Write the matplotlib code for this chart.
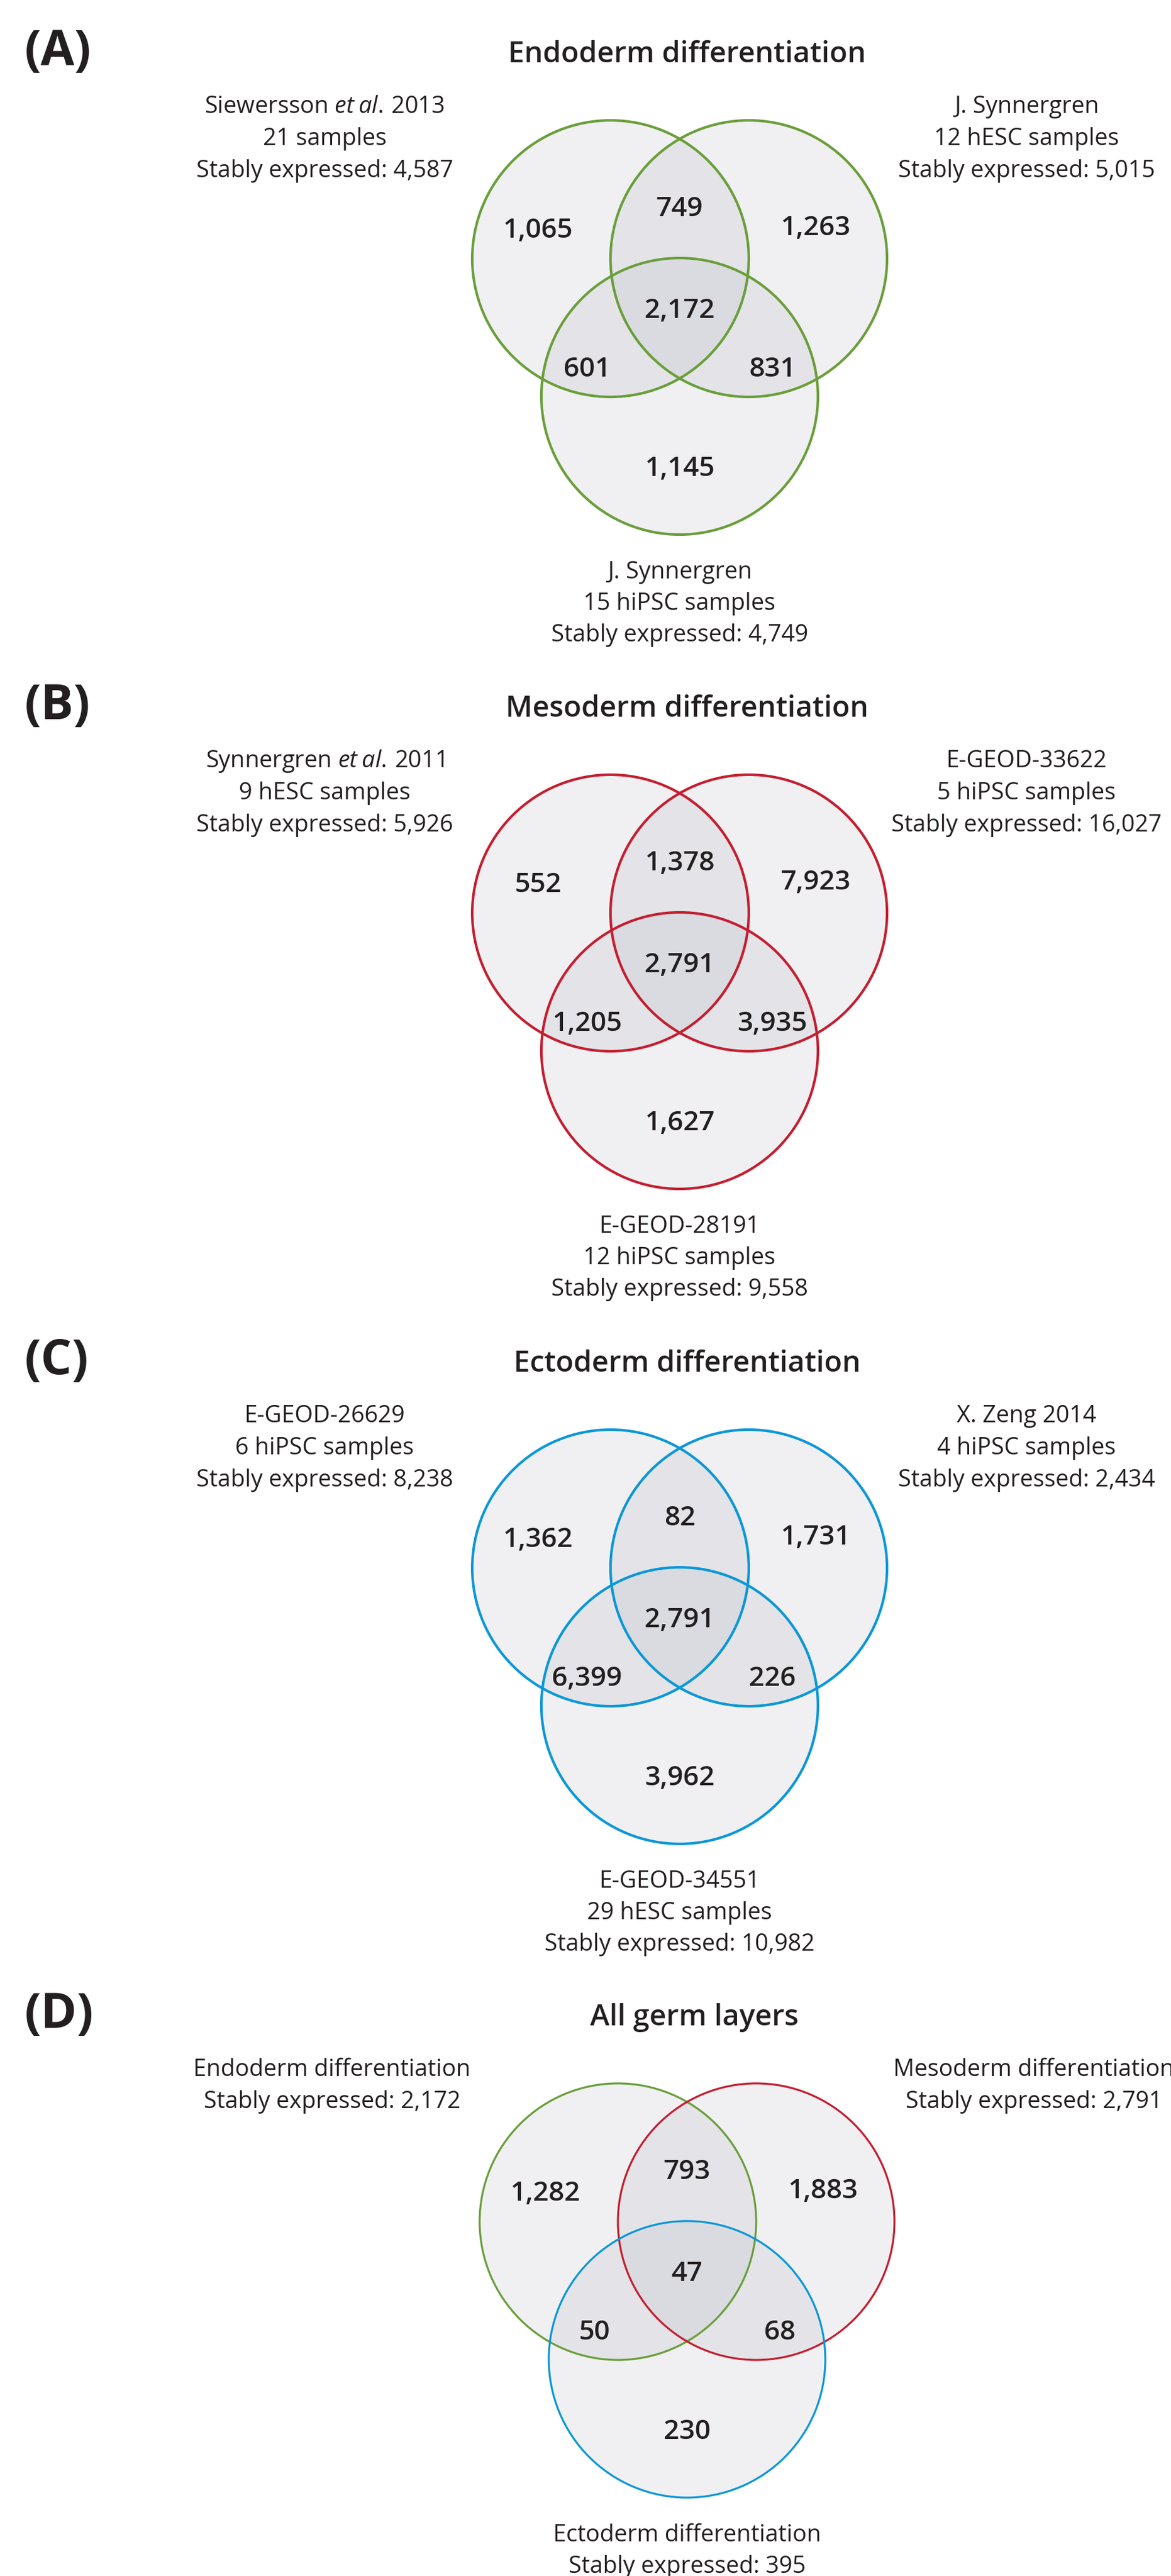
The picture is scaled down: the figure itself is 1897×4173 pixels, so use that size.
import matplotlib
matplotlib.use("Agg")
import matplotlib.pyplot as plt
from matplotlib.patches import Circle
from matplotlib import font_manager

# pick a humanist sans close to the original (Myriad-like)
names = {f.name for f in font_manager.fontManager.ttflist}
FONT = next(n for n in ["Open Sans", "Noto Sans", "Lato", "DejaVu Sans"] if n in names)
plt.rcParams["font.family"] = [FONT, "DejaVu Sans"]
plt.rcParams["mathtext.fontset"] = "custom"
plt.rcParams["mathtext.rm"] = FONT
plt.rcParams["mathtext.it"] = FONT + ":italic"

# ---- data ----
panel_letters = ["(A)", "(B)", "(C)", "(D)"]
titles = ["Endoderm differentiation", "Mesoderm differentiation",
          "Ectoderm differentiation", "All germ layers"]
left_labels = [
    [r"Siewersson $\mathit{et}\:\mathit{al.}\,$2013", "21 samples", "Stably expressed: 4,587"],
    [r"Synnergren $\mathit{et}\:\mathit{al.}\,$2011", "9 hESC samples", "Stably expressed: 5,926"],
    ["E-GEOD-26629", "6 hiPSC samples", "Stably expressed: 8,238"],
    ["Endoderm differentiation", "Stably expressed: 2,172"],
]
right_labels = [
    ["J. Synnergren", "12 hESC samples", "Stably expressed: 5,015"],
    ["E-GEOD-33622", "5 hiPSC samples", "Stably expressed: 16,027"],
    ["X. Zeng 2014", "4 hiPSC samples", "Stably expressed: 2,434"],
    ["Mesoderm differentiation", "Stably expressed: 2,791"],
]
bottom_labels = [
    ["J. Synnergren", "15 hiPSC samples", "Stably expressed: 4,749"],
    ["E-GEOD-28191", "12 hiPSC samples", "Stably expressed: 9,558"],
    ["E-GEOD-34551", "29 hESC samples", "Stably expressed: 10,982"],
    ["Ectoderm differentiation", "Stably expressed: 395"],
]
# region order: left only, left&right, right only, all three, left&bottom, right&bottom, bottom only
endoderm_counts = [1065, 749, 1263, 2172, 601, 831, 1145]
mesoderm_counts = [552, 1378, 7923, 2791, 1205, 3935, 1627]
ectoderm_counts = [1362, 82, 1731, 2791, 6399, 226, 3962]
germ_counts = [1282, 793, 1883, 47, 50, 68, 230]
counts = [endoderm_counts, mesoderm_counts, ectoderm_counts, germ_counts]

GREEN, RED, BLUE = "#6a9e3a", "#c41e30", "#0b97d7"
edge_colors = [[GREEN] * 3, [RED] * 3, [BLUE] * 3, [GREEN, RED, BLUE]]
TXT = "#231f20"

# ---- layout (pixel coords) ----
W, H = 1897, 4173
panel_dy = [0, 1060, 2121, 3180]
panel_dx = [0, 0, 0, 12]
line_w = [3.0, 3.0, 3.0, 2.3]
cx, cy, sep, drop, rad = 1101, 419, 112, 223, 224
region_off = [(-230, -34), (0, -69), (220, -38), (0, 96), (-150, 191), (150, 191), (0, 352)]

fig = plt.figure(figsize=(W / 100, H / 100), dpi=100)
ax = fig.add_axes([0, 0, 1, 1])
ax.set_xlim(0, W)
ax.set_ylim(H, 0)
ax.axis("off")

for i in range(4):
    ox, oy = panel_dx[i], panel_dy[i]
    centers = [(cx - sep + ox, cy + oy), (cx + sep + ox, cy + oy), (cx + ox, cy + drop + oy)]
    for (x, y) in centers:
        ax.add_patch(Circle((x, y), rad, facecolor="#b4b8c0", alpha=0.2, edgecolor="none"))
    for (x, y), c in zip(centers, edge_colors[i]):
        ax.add_patch(Circle((x, y), rad, facecolor="none", edgecolor=c, lw=line_w[i]))

    ax.text(40, 105 + oy, panel_letters[i], fontsize=57, fontweight="bold",
            color=TXT, ha="left", va="baseline")
    ax.text(1113 + ox, 101 + oy, titles[i], fontsize=34, fontweight="semibold",
            color=TXT, ha="center", va="baseline")

    for k, line in enumerate(left_labels[i]):
        ax.text(526 + ox, 183 + 52 * k + oy, line, fontsize=27.4, color=TXT,
                ha="center", va="baseline")
    for k, line in enumerate(right_labels[i]):
        ax.text(1663 + ox, 183 + 52 * k + oy, line, fontsize=27.4, color=TXT,
                ha="center", va="baseline")
    for k, line in enumerate(bottom_labels[i]):
        ax.text(cx + ox, 937 + 51 * k + oy, line, fontsize=27.4, color=TXT,
                ha="center", va="baseline")

    for v, (dx, dy) in zip(counts[i], region_off):
        ax.text(cx + dx + ox, cy + dy + oy, f"{v:,}", fontsize=32, fontweight="semibold",
                color=TXT, ha="center", va="baseline")

fig.savefig("out.png", dpi=100)
